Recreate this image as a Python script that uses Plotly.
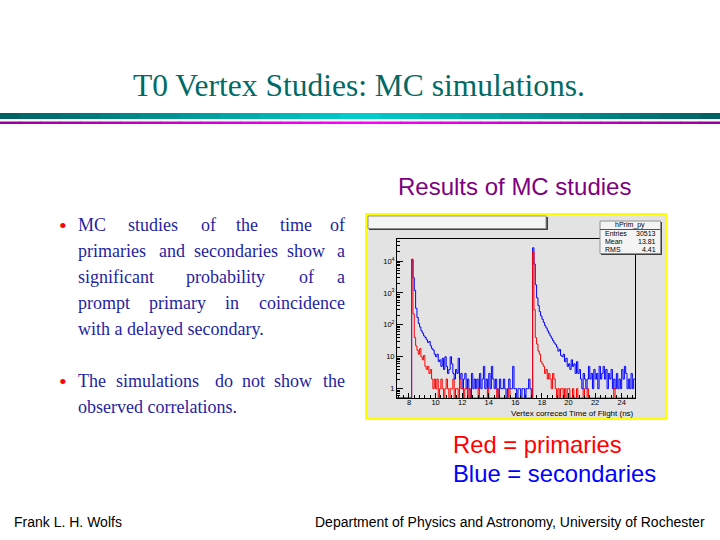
import plotly.graph_objects as go
import math

# ---------------- data ----------------
bin_start = 7.0
bin_width = 0.1

# counts per 0.1 ns bin, one row per ns (7.0 ... 24.9)
red_rows = [
    [0, 0, 0, 0, 0, 0, 0, 0, 0, 0],                      # 7
    [0, 0, 11500, 220, 40, 22, 16, 12, 18, 10],          # 8
    [8, 11, 5, 4, 5, 3, 4, 2, 1, 2],                     # 9
    [1, 2, 0, 1, 2, 1, 0, 1, 2, 1],                      # 10
    [0, 1, 1, 2, 0, 1, 1, 0, 2, 1],                      # 11
    [1, 0, 1, 1, 0, 1, 0, 0, 0, 0],                      # 12
    [0, 0, 1, 0, 0, 0, 0, 0, 0, 1],                      # 13
    [0, 0, 0, 0, 0, 0, 1, 0, 0, 0],                      # 14
    [0, 0, 0, 0, 0, 1, 0, 0, 0, 0],                      # 15
    [0, 0, 0, 0, 0, 0, 0, 0, 0, 0],                      # 16
    [0, 0, 0, 19500, 300, 40, 25, 15, 12, 7],            # 17
    [6, 5, 3, 4, 2, 3, 2, 1, 3, 2],                      # 18
    [1, 0, 1, 0, 1, 1, 0, 1, 0, 1],                      # 19
    [1, 0, 0, 1, 0, 0, 1, 0, 0, 0],                      # 20
    [0, 1, 0, 0, 1, 0, 0, 0, 0, 0],                      # 21
    [0, 0, 0, 0, 0, 0, 0, 0, 0, 0],                      # 22
    [0, 0, 0, 0, 1, 0, 0, 0, 0, 0],                      # 23
    [0, 0, 0, 0, 0, 0, 0, 0, 0, 0],                      # 24
]
blue_rows = [
    [0, 0, 0, 0, 0, 0, 0, 0, 0, 0],                      # 7
    [0, 0, 11000, 3000, 1200, 330, 170, 110, 85, 65],    # 8
    [55, 45, 40, 34, 28, 30, 22, 18, 16, 12],            # 9
    [10, 12, 7, 8, 5, 9, 4, 10, 5, 3],                   # 10
    [4, 10, 6, 3, 2, 4, 3, 9, 2, 3],                     # 11
    [1, 2, 3, 1, 2, 1, 0, 3, 1, 2],                      # 12
    [1, 2, 1, 3, 1, 2, 5, 1, 2, 1],                      # 13
    [3, 1, 5, 2, 1, 2, 1, 0, 2, 1],                      # 14
    [1, 2, 1, 0, 1, 2, 1, 1, 5, 1],                      # 15
    [1, 0, 1, 1, 0, 1, 1, 0, 1, 1],                      # 16
    [2, 1, 0, 26000, 8000, 1800, 700, 400, 260, 190],    # 17
    [150, 120, 95, 80, 65, 55, 45, 38, 32, 27],          # 18
    [24, 20, 15, 17, 11, 10, 12, 7, 9, 5],               # 19
    [6, 4, 8, 5, 6, 3, 7, 3, 4, 2],                      # 20
    [1, 3, 2, 1, 2, 5, 2, 3, 1, 4],                      # 21
    [2, 3, 1, 5, 2, 3, 5, 2, 4, 1],                      # 22
    [3, 2, 4, 1, 2, 1, 3, 1, 2, 1],                      # 23
    [4, 2, 5, 3, 1, 2, 1, 3, 1, 2],                      # 24
]

x_tick_vals = [8, 10, 12, 14, 16, 18, 20, 22, 24]
y_tick_vals = [1, 10, 100, 1000, 10000]
y_tick_text = ["1", "10", "10<sup>2</sup>", "10<sup>3</sup>", "10<sup>4</sup>"]
x_range = [7.1, 25.0]
y_min, y_max = 0.51, 49000

stats_name = "hPrim_py"
stats_labels = ["Entries", "Mean", "RMS"]
stats_values = ["30513", "13.81", "4.41"]

axis_title = "Vertex correced Time of Flight (ns)"

# ---------------- helpers ----------------
W, H = 720, 540
def px(x):
    return x / W
def py(y):
    return 1 - y / H

def hist_xy(rows):
    counts = [c for r in rows for c in r]
    edges = [bin_start + i * bin_width for i in range(len(counts) + 1)]
    ys = [c if c > 0 else y_min for c in counts]
    ys = ys + [ys[-1]]
    return edges, ys

fig = go.Figure()

bx, by = hist_xy(blue_rows)
rx, ry = hist_xy(red_rows)
fig.add_trace(go.Scatter(x=bx, y=by, mode="lines", line=dict(color="#0000ff", width=1, shape="hv"),
                         hoverinfo="skip", showlegend=False))
fig.add_trace(go.Scatter(x=rx, y=ry, mode="lines", line=dict(color="#ff0000", width=1, shape="hv"),
                         hoverinfo="skip", showlegend=False))

shapes = []
annotations = []

# ROOT canvas: gray with yellow border
shapes.append(dict(type="rect", xref="paper", yref="paper", x0=px(366), x1=px(666), y0=py(419), y1=py(214),
                   fillcolor="#e3e3e3", line=dict(color="#ffff00", width=2), layer="below"))
# empty title box with shadow
shapes.append(dict(type="rect", xref="paper", yref="paper", x0=px(369), x1=px(548), y0=py(230), y1=py(217),
                   fillcolor="#404040", line=dict(width=0), layer="below"))
shapes.append(dict(type="rect", xref="paper", yref="paper", x0=px(368), x1=px(546), y0=py(228.5), y1=py(216),
                   fillcolor="#f4f4f4", line=dict(color="#909090", width=1), layer="below"))

# stats box with shadow
shapes.append(dict(type="rect", xref="paper", yref="paper", x0=px(601), x1=px(662), y0=py(255), y1=py(222),
                   fillcolor="#404040", line=dict(width=0), layer="above"))
shapes.append(dict(type="rect", xref="paper", yref="paper", x0=px(600), x1=px(660.5), y0=py(253.5), y1=py(221),
                   fillcolor="#f4f4f4", line=dict(color="#909090", width=1), layer="above"))
shapes.append(dict(type="line", xref="paper", yref="paper", x0=px(600), x1=px(660.5), y0=py(229.5), y1=py(229.5),
                   line=dict(color="#505050", width=1), layer="above"))
annotations.append(dict(text=stats_name, x=px(630), y=py(225.3), xref="paper", yref="paper", showarrow=False,
                        xanchor="center", yanchor="middle", font=dict(family="Liberation Sans", size=7, color="black")))
stat_rows_y = [233.5, 241.5, 249.5]
for lab, val, yy in zip(stats_labels, stats_values, stat_rows_y):
    annotations.append(dict(text=lab, x=px(602.5), y=py(yy), xref="paper", yref="paper", showarrow=False,
                            xanchor="left", yanchor="middle", font=dict(family="Liberation Sans", size=7, color="black")))
    annotations.append(dict(text=val, x=px(658), y=py(yy), xref="paper", yref="paper", showarrow=False,
                            xanchor="right", yanchor="middle", font=dict(family="Liberation Sans", size=7, color="black")))

# axis title
annotations.append(dict(text=axis_title, x=px(636), y=py(413), xref="paper", yref="paper", showarrow=False,
                        xanchor="right", yanchor="middle", font=dict(family="Liberation Sans", size=8, color="black")))

# ---------- slide decorations ----------
def lerp_color(c1, c2, t):
    return "rgb(%d,%d,%d)" % tuple(round(a + (b - a) * t) for a, b in zip(c1, c2))

nseg = 36
for i in range(nseg):
    t = 1 - abs((i + 0.5) / nseg * 2 - 1)
    x0, x1 = i * W / nseg, (i + 1) * W / nseg + 0.6
    shapes.append(dict(type="rect", xref="paper", yref="paper", x0=px(x0), x1=px(x1), y0=py(119), y1=py(113),
                       fillcolor=lerp_color((0, 95, 95), (0, 205, 205), t), line=dict(width=0), layer="below"))
    shapes.append(dict(type="rect", xref="paper", yref="paper", x0=px(x0), x1=px(x1), y0=py(124), y1=py(121.5),
                       fillcolor=lerp_color((150, 0, 150), (255, 0, 255), t), line=dict(width=0), layer="below"))

def ann(text, x, y, size, color, family, xanchor="left"):
    annotations.append(dict(text=text, x=px(x), y=py(y), xref="paper", yref="paper", showarrow=False,
                            xanchor=xanchor, yanchor="middle", font=dict(family=family, size=size, color=color)))

ann("T0 Vertex Studies: MC simulations.", 359, 85, 31.5, "#006a66", "Liberation Serif", "center")
ann("Results of MC studies", 514, 186, 24, "#800080", "Liberation Sans", "center")
ann("Red = primaries", 451, 444, 23.8, "#ff0000", "Liberation Sans")
ann("Blue = secondaries", 451, 473, 23.8, "#0000ff", "Liberation Sans")
ann("Frank L. H. Wolfs", 12, 522, 14, "black", "Liberation Sans")
ann("Department of Physics and Astronomy, University of Rochester", 707, 522, 14, "black", "Liberation Sans", "right")

# bullet text (justified by word placement)
TXT = "#1f1fa0"
RIGHT = 347
lines = [
    (225, [("MC", 76), ("studies", 126), ("of", 199), ("the", 234), ("time", 277.7), ("of", None)]),
    (251, [("primaries", 76), ("and", 157), ("secondaries", 191.7), ("show", 285), ("a", None)]),
    (277, [("significant", 76), ("probability", 184.3), ("of", 296.7), ("a", None)]),
    (303, [("prompt", 76), ("primary", 146.7), ("in", 223.3), ("coincidence", None)]),
    (329, [("with a delayed secondary.", 76)]),
    (381, [("The", 76), ("simulations", 114), ("do", 213.3), ("not", 240), ("show", 272.3), ("the", None)]),
    (407, [("observed correlations.", 76)]),
]
for yy, words in lines:
    for w, xx in words:
        if xx is None:
            ann(w, RIGHT, yy, 18, TXT, "Liberation Serif", "right")
        else:
            ann(w, xx, yy, 18, TXT, "Liberation Serif", "left")
for yy in (225, 381):
    ann("•", 63, yy, 22, "#ff0000", "Liberation Serif", "center")

minor_log = [k * 10 ** e for e in range(-1, 5) for k in range(2, 10)]

fig.update_layout(
    width=W, height=H, autosize=False,
    margin=dict(l=0, r=0, t=0, b=0),
    paper_bgcolor="white", plot_bgcolor="#e3e3e3",
    shapes=shapes, annotations=annotations,
    xaxis=dict(domain=[px(397), px(635)], range=x_range, tickvals=x_tick_vals,
               showgrid=False, zeroline=False, showline=True, linecolor="black", linewidth=1, mirror=True,
               ticks="inside", ticklen=5, tickcolor="black", ticklabelstandoff=-3,
               minor=dict(ticks="inside", ticklen=3, dtick=0.4, tickcolor="black", showgrid=False),
               tickfont=dict(family="Liberation Sans", size=7.5, color="black"), fixedrange=True),
    yaxis=dict(domain=[py(398), py(239)], type="log", range=[math.log10(y_min), math.log10(y_max)],
               tickvals=y_tick_vals, ticktext=y_tick_text,
               showgrid=False, zeroline=False, showline=True, linecolor="black", linewidth=1, mirror=True,
               ticks="inside", ticklen=6, tickcolor="black",
               minor=dict(ticks="inside", ticklen=3, tickmode="array", tickvals=minor_log,
                          tickcolor="black", showgrid=False),
               tickfont=dict(family="Liberation Sans", size=7.5, color="black"), fixedrange=True),
)

fig.write_html("out.html", config={"displayModeBar": False, "staticPlot": True},
               post_script="document.body.style.margin='0';document.body.style.overflow='hidden';")
